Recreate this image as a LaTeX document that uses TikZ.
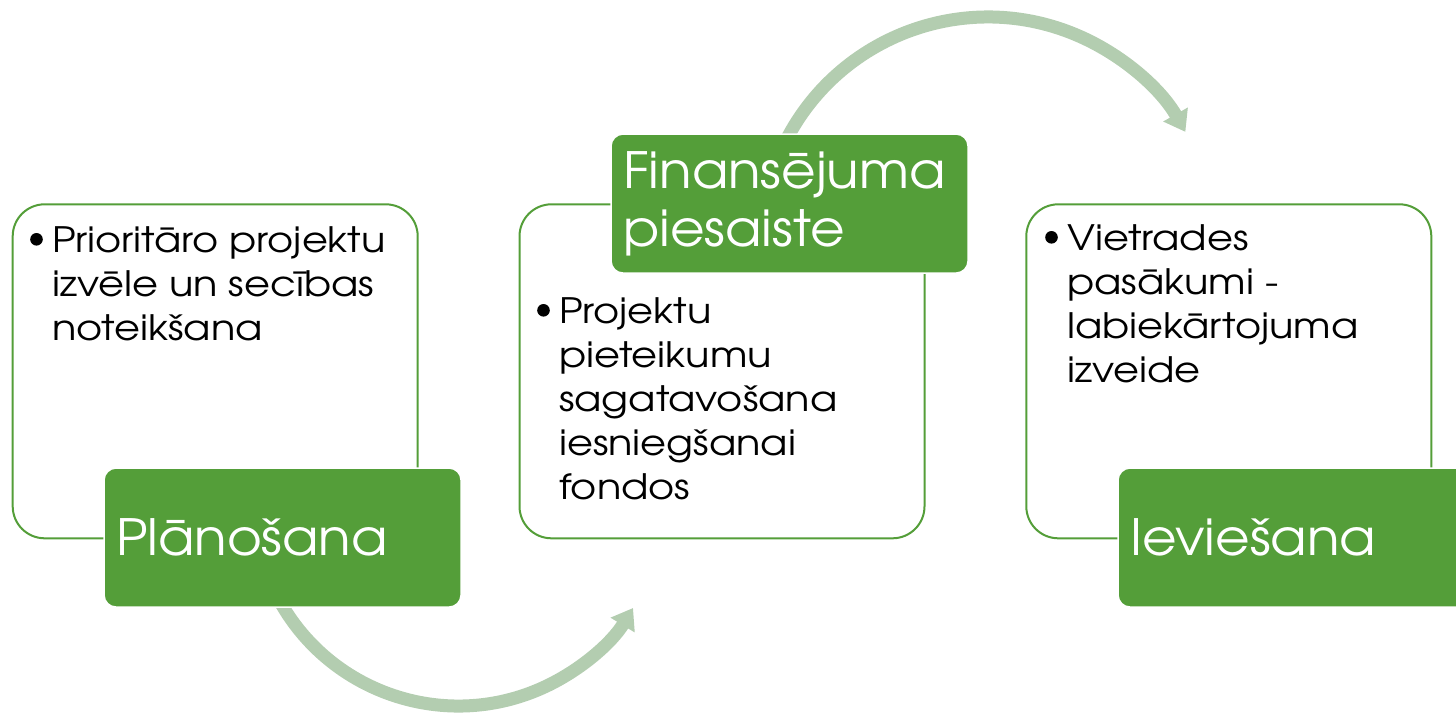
\documentclass[tikz,border=0pt]{standalone}
\usepackage{fontspec}
\setmainfont{TeX Gyre Adventor}
\newfontfamily\bodyfont[FakeStretch=1.14]{TeX Gyre Adventor}
\newfontfamily\lblfont[FakeStretch=1.065]{TeX Gyre Adventor}
\usetikzlibrary{arrows.meta}
\definecolor{dgreen}{RGB}{84,158,57}
\definecolor{lgreen}{RGB}{179,205,176}
\newcommand{\bul}{\tikz[baseline=-12.7pt]\fill (0pt,0pt) circle[radius=6.3pt];}
\tikzset{
  outbox/.style={draw=dgreen, line width=2pt, fill=white, rounded corners=32pt, minimum width=405pt, minimum height=334pt, anchor=north west, inner sep=0pt},
  lbl/.style={fill=dgreen, draw=white, line width=1.5pt, rounded corners=12pt, minimum width=357pt, minimum height=139pt, anchor=north west, text=white, font=\lblfont\fontsize{50}{58}\selectfont, align=left, text width=333pt, inner sep=12pt},
  body/.style={anchor=north west, inner sep=0pt, font=\bodyfont\fontsize{35}{44}\selectfont},
  flow/.style={draw=lgreen, line width=13pt, -{Triangle[width=27pt,length=20pt]}},
}
\begin{document}
\begin{tikzpicture}[x=1pt,y=-1pt]
\useasboundingbox (0,0) rectangle (1456,713);
\clip (0,0) rectangle (1456,713);
\coordinate (c1) at (458.4,501.4);
\coordinate (c2) at (988,244);
\draw[flow] (c1) ++(205:204.6pt) arc[start angle=205, end angle=328.6, radius=204.6pt];
\draw[flow] (c2) ++(156:227pt) arc[start angle=156, end angle=29.6, radius=227pt];

\node[outbox] (b1) at (11.7,203.3) {};
\node[outbox] (b2) at (518.5,203.3) {};
\node[outbox] (b3) at (1025.3,203.3) {};

\node[body] (t1) at (30,221) {\begin{tabular}{@{}p{22pt}@{}l@{}}\bul&Prioritāro projektu\\&izvēle un secības\\&noteikšana\end{tabular}};
\node[body] (t2) at (537,292) {\begin{tabular}{@{}p{22pt}@{}l@{}}\bul&Projektu\\&pieteikumu\\&sagatavošana\\&iesniegšanai\\&fondos\end{tabular}};
\node[body] (t3) at (1045,219) {\begin{tabular}{@{}p{22pt}@{}l@{}}\bul&Vietrades\\&pasākumi -\\&labiekārtojuma\\&izveide\end{tabular}};

\node[lbl] (l1) at (103.3,467.3) {Plānošana};
\node[lbl] (l2) at (610.3,133.3) {Finansējuma\\piesaiste};
\node[lbl] (l3) at (1117.3,467.3) {Ieviešana};
\end{tikzpicture}
\end{document}
